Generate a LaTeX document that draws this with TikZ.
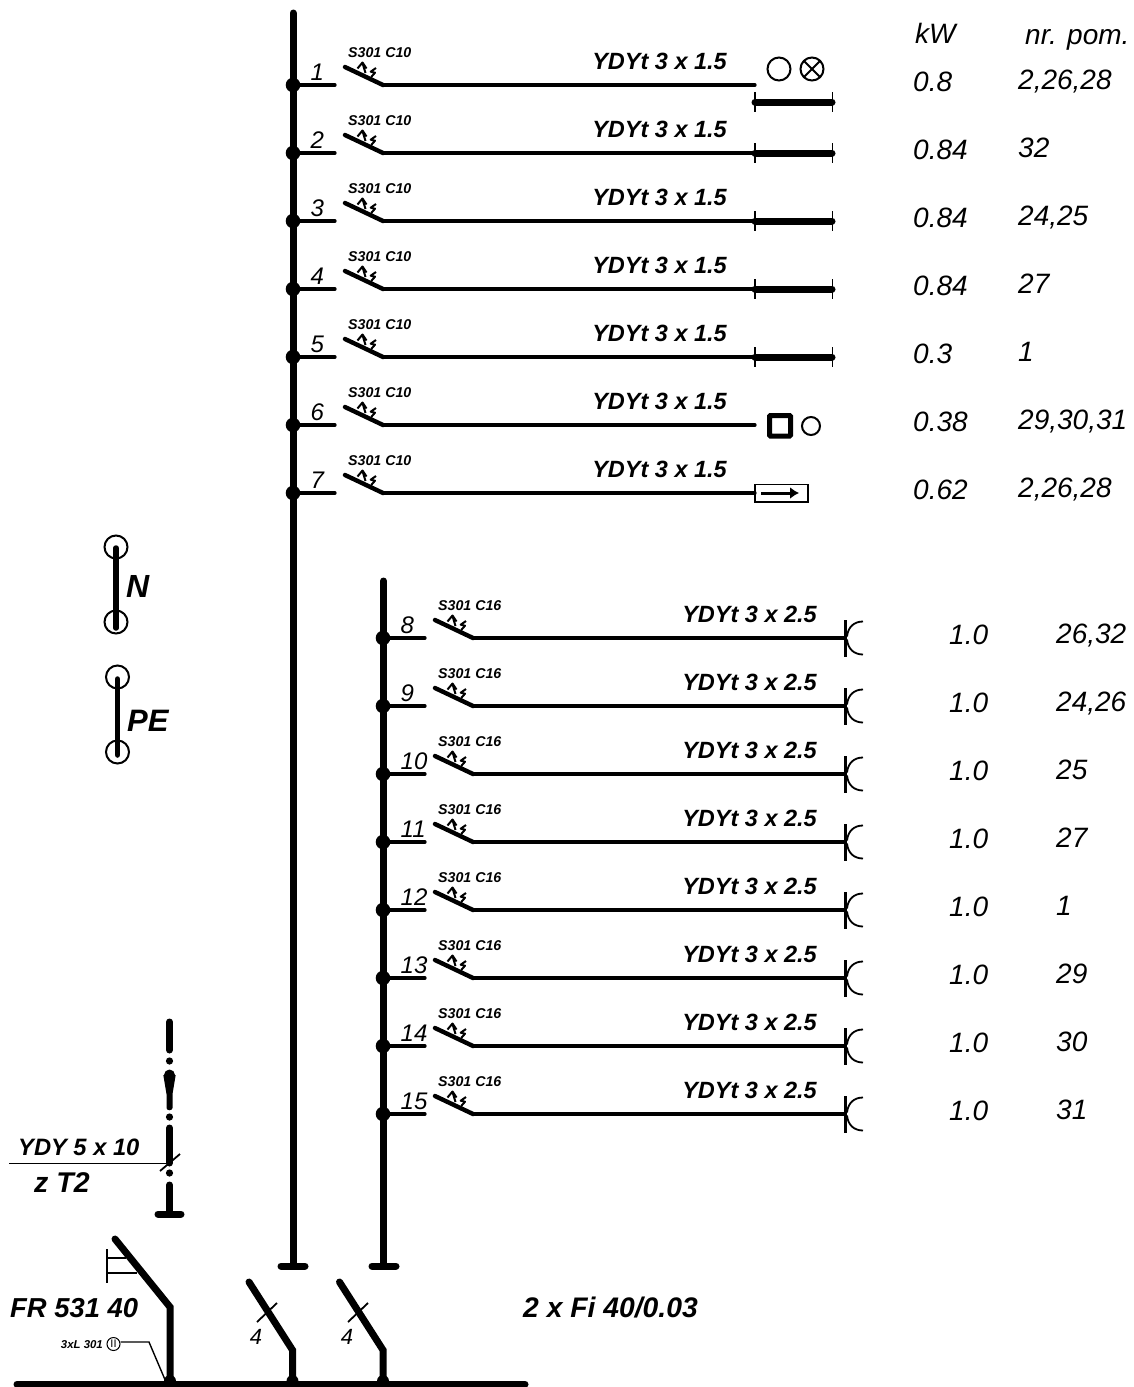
\documentclass[tikz,border=0pt]{standalone}
\usepackage{fontspec}
\setmainfont{Liberation Sans}
\usetikzlibrary{arrows.meta}
\tikzset{
  bus/.style={line width=7pt,line cap=round},
  wire/.style={line width=3.2pt,line cap=round},
  blade/.style={line width=4.4pt,line cap=round,line join=round},
  mainblade/.style={line width=7pt,line cap=round,line join=miter},
  thin wire/.style={line width=1.8pt},
  ring/.style={line width=2pt},
  txt/.style={inner sep=0pt,anchor=base west},
  rtxt/.style={inner sep=0pt,anchor=base east},
  ctxt/.style={inner sep=0pt,anchor=base},
}
\newcommand{\fs}[1]{\fontsize{#1}{#1}\selectfont}
\newcommand{\reg}[1]{\fs{#1}\itshape}
\newcommand{\bld}[1]{\fs{#1}\bfseries\itshape}

% one outgoing circuit, drawn around y=0 of the row
\newcommand{\branch}[4]{
\coordinate (b#1) at (0,0);
\coordinate (t#1) at (42,0);
\coordinate (p#1) at (52,-18);
\coordinate (q#1) at (90,0);
\coordinate (e#1) at (#4,0);
\fill (b#1) circle (7.3pt);
\draw [wire] (b#1) -- (t#1);
\draw [blade] (p#1) -- (q#1);
\draw [wire] (q#1) -- (e#1);
\draw [line width=2pt] (72.5,-12) -- (69.5,-22);
\draw [line width=2pt,line join=round] (64.5,-16.5) -- (69.5,-22.5) -- (73.5,-16.5);
\draw [line width=2pt,line join=round] (83,-17) -- (77.7,-13.3) -- (82,-12.3) -- (78.2,-8);
\node (n#1) [txt] at (17.5,-5) {\reg{24}#1};
\node (c#1) [txt] at (55,-28) {\bld{14.2}#2};
\node (y#1) [rtxt] at (#4-28,-16) {\bld{23.5}#3};
}

\begin{document}
\begin{tikzpicture}[x=1pt,y=-1pt]

\useasboundingbox (0,0) rectangle (1134,1387);

\coordinate (top1) at (293,13);
\coordinate (foot1) at (293,1266);
\coordinate (top2) at (383.5,581);
\coordinate (foot2) at (383.5,1266);

\draw [bus] (top1) -- (foot1);
\draw [bus] (top2) -- (foot2);
\draw [bus] (281,1266) -- (305,1266);
\draw [bus] (372,1266) -- (396,1266);

\foreach \n/\kw/\nr [count=\i from 0] in {1/0.8/{2,26,28},2/0.84/32,3/0.84/{24,25},4/0.84/27,5/0.3/1,6/0.38/{29,30,31},7/0.62/{2,26,28}}{
  \pgfmathsetmacro{\y}{85+68*\i}
  \begin{scope}[shift={(293,\y)}]
    \branch{\n}{S301 C10}{YDYt 3 x 1.5}{462}
  \end{scope}
  \node (kw\n) [txt] at (913,\y+6) {\reg{28}\kw};
  \node (nr\n) [txt] at (1018,\y+4) {\reg{28}\nr};
}

\foreach \n/\nr [count=\i from 0] in {8/{26,32},9/{24,26},10/25,11/27,12/1,13/29,14/30,15/31}{
  \pgfmathsetmacro{\y}{638+68*\i}
  \begin{scope}[shift={(383,\y)}]
    \branch{\n}{S301 C16}{YDYt 3 x 2.5}{462}
    \draw [line width=2.6pt] (462.5,-18) -- (462.5,19);
    \draw [line width=1.8pt] (464,-1.5) .. controls (465,-11) and (471,-16.5) .. (480,-16.5);
    \draw [line width=1.8pt] (464,1.5) .. controls (465,11) and (471,16.5) .. (480,16.5);
  \end{scope}
  \node (kw\n) [txt] at (949,\y+6) {\reg{28}1.0};
  \node (nr\n) [txt] at (1056,\y+5) {\reg{28}\nr};
}

\node (kwhead) [txt] at (915,43) {\reg{28}kW};
\node (nrhead) [txt] at (1025,44) {\reg{28}nr. pom.};

\draw [line width=7pt,line cap=round] (755,102) -- (832,102);
\draw [line width=1.6pt] (755,92) -- (755,112);
\draw [line width=1.6pt] (832.5,92) -- (832.5,112);
\foreach \y in {153,221,289,357}{
  \draw [line width=7pt,line cap=round] (755,\y) -- (832,\y);
  \draw [line width=1.6pt] (755,\y-10) -- (755,\y+10);
  \draw [line width=1.6pt] (832.5,\y-10) -- (832.5,\y+10);
}

\draw [ring] (779,69) circle (11.5pt);
\draw [ring] (812,69) circle (11.5pt);
\draw [ring] (804,61) -- (820,77);
\draw [ring] (804,77) -- (820,61);

\draw [line width=5pt,rounded corners=1pt] (769.5,415.5) rectangle (790.5,436);
\draw [ring] (811,426) circle (9pt);

\draw [line width=1.6pt] (755,484.5) rectangle (808,502);
\coordinate (hl) at (761,493);
\coordinate (hr) at (799,493);
\draw [-{Latex[length=9pt,width=12pt]},line width=3pt] (hl) -- (hr);

\coordinate (ntop) at (116,547);
\coordinate (nbot) at (116,622);
\draw [ring] (ntop) circle (11.5pt);
\draw [ring] (nbot) circle (11.5pt);
\draw [line width=5.5pt,line cap=round] (116,548) -- (116,628);
\node (nlab) [txt] at (126,597) {\bld{32}N};

\coordinate (petop) at (117.5,677);
\coordinate (pebot) at (117.5,752);
\draw [ring] (petop) circle (11.5pt);
\draw [ring] (pebot) circle (11.5pt);
\draw [line width=5.5pt,line cap=round] (117.5,679) -- (117.5,755);
\node (pelab) [txt] at (127,731) {\bld{31}PE};

\draw [bus] (169.5,1022) -- (169.5,1050);
\fill (169.5,1061) circle (3.6pt);
\fill (169.5,1075) circle (5.5pt);
\fill (163.3,1075) -- (175.7,1075) -- (172.5,1094) -- (172.5,1108) .. controls (172,1111) and (167,1111) .. (166.5,1108) -- (166.5,1094) -- cycle;
\fill (169.5,1117) circle (3.6pt);
\draw [bus] (169.5,1128) -- (169.5,1163);
\fill (169.5,1173) circle (3.6pt);
\draw [bus] (169.5,1185) -- (169.5,1214);
\draw [bus] (158,1214) -- (181,1214);

\coordinate (cl) at (9,1163.5);
\coordinate (cr) at (170,1163.5);
\draw [thin wire] (cl) -- (cr);
\draw [thin wire] (160,1171) -- (180,1154);
\node (cab) [txt] at (18,1155) {\bld{23.7}YDY 5 x 10};
\node (zt) [txt] at (34,1192) {\bld{28.5}z T2};

\coordinate (bl) at (17,1384);
\coordinate (br) at (525,1384);
\draw [line width=7pt,line cap=round] (bl) -- (br);

\coordinate (m1) at (115,1239);
\coordinate (m2) at (170,1307);
\coordinate (m3) at (170,1384);
\draw [mainblade] (m1) -- (m2) -- (m3);
\draw [thin wire] (107,1249) -- (107,1283);
\draw [thin wire] (107,1258) -- (126,1258);
\draw [thin wire] (107,1273) -- (137,1273);
\node (fr) [txt] at (10,1317) {\bld{27.4}FR 531 40};

\node (ringlab) [rtxt] at (103,1348) {\bld{11.4}3xL 301};
\node (ringnode) [draw,circle,line width=1pt,minimum size=13pt,inner sep=0pt] at (113.5,1344) {\fs{11}II};
\coordinate (rk) at (149,1342);
\coordinate (re) at (166,1382);
\draw [line width=1.4pt] (ringnode.east |- rk) -- (rk) -- (re);

\coordinate (s1) at (249,1282);
\coordinate (s2) at (292.5,1350);
\coordinate (s3) at (292.5,1384);
\draw [mainblade] (s1) -- (s2) -- (s3);
\draw [thin wire] (257,1322) -- (277,1303);
\node (four1) [ctxt] at (256,1344) {\reg{22}4};

\coordinate (s4) at (339.5,1282);
\coordinate (s5) at (383,1350);
\coordinate (s6) at (383,1384);
\draw [mainblade] (s4) -- (s5) -- (s6);
\draw [thin wire] (348,1322) -- (368,1303);
\node (four2) [ctxt] at (347,1344) {\reg{22}4};

\fill (170,1381) circle (6pt);
\fill (292.5,1381) circle (6pt);
\fill (383,1381) circle (6pt);

\node (fi) [txt] at (523,1317) {\bld{28.3}2 x Fi 40/0.03};

\end{tikzpicture}
\end{document}
